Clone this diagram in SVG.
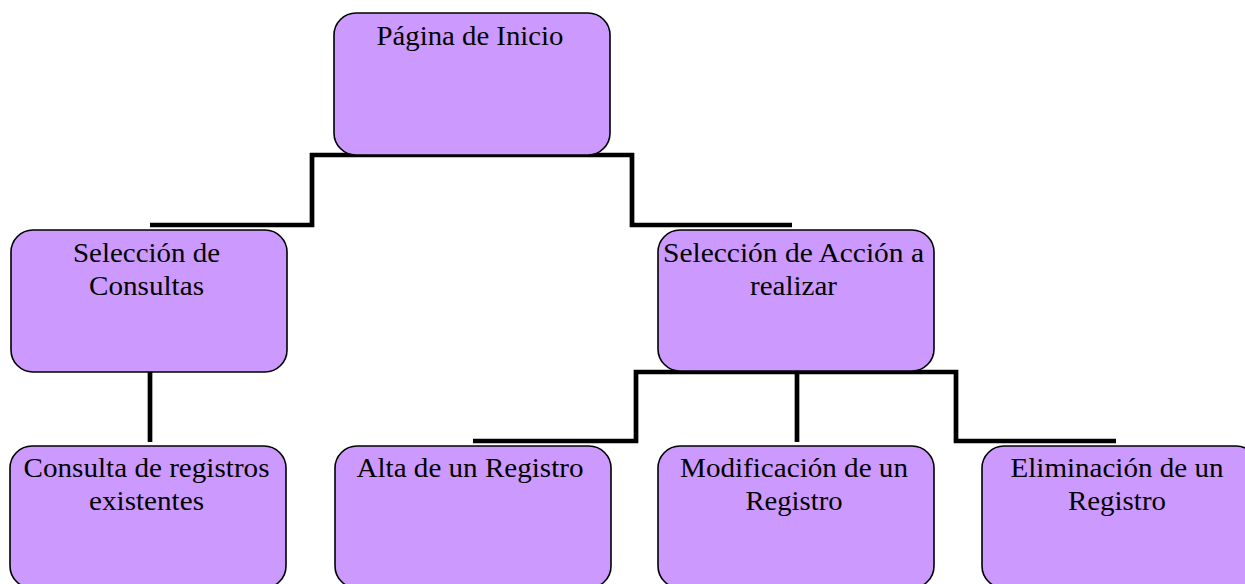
<svg xmlns="http://www.w3.org/2000/svg" width="1245" height="584" viewBox="0 0 1245 584">
<style>
.box{fill:#cc99ff;stroke:#000;stroke-width:1.6}
.lbl{font-size:28px;fill:#000;text-anchor:middle}
.con{fill:none;stroke:#000;stroke-width:4.7;stroke-linejoin:miter;stroke-linecap:butt}
</style>
<rect width="1245" height="584" fill="#fff"/>
<g id="connectors">
<path class="con" d="M150 225 H312 V155 H632 V225 H792"/>
<path class="con" d="M150 372 V442"/>
<path class="con" d="M473 441 H636 V372 H956 V441 H1116"/>
<path class="con" d="M797 372 V442"/>
</g>
<g font-family="'Liberation Serif', 'Times New Roman', Times, serif">
<g id="n1">
<rect class="box" x="334" y="13" width="276" height="142" rx="22" ry="22"/>
<text class="lbl" x="470" y="45" textLength="187" lengthAdjust="spacingAndGlyphs">Página de Inicio</text>
</g>
<g id="n2">
<rect class="box" x="11" y="230" width="276" height="142" rx="22" ry="22"/>
<text class="lbl" x="146.5" y="262" textLength="147" lengthAdjust="spacingAndGlyphs">Selección de</text>
<text class="lbl" x="146.5" y="295" textLength="115" lengthAdjust="spacingAndGlyphs">Consultas</text>
</g>
<g id="n3">
<rect class="box" x="658" y="230" width="276" height="141" rx="22" ry="22"/>
<text class="lbl" x="793.5" y="262" textLength="261" lengthAdjust="spacingAndGlyphs">Selección de Acción a</text>
<text class="lbl" x="793.5" y="295" textLength="87" lengthAdjust="spacingAndGlyphs">realizar</text>
</g>
<g id="n4">
<rect class="box" x="10" y="446" width="276" height="142" rx="22" ry="22"/>
<text class="lbl" x="146.5" y="477" textLength="246" lengthAdjust="spacingAndGlyphs">Consulta de registros</text>
<text class="lbl" x="146.5" y="510" textLength="115" lengthAdjust="spacingAndGlyphs">existentes</text>
</g>
<g id="n5">
<rect class="box" x="335" y="446" width="276" height="142" rx="22" ry="22"/>
<text class="lbl" x="470" y="477" textLength="227" lengthAdjust="spacingAndGlyphs">Alta de un Registro</text>
</g>
<g id="n6">
<rect class="box" x="658" y="446" width="276" height="142" rx="22" ry="22"/>
<text class="lbl" x="794" y="477" textLength="228" lengthAdjust="spacingAndGlyphs">Modificación de un</text>
<text class="lbl" x="794" y="510" textLength="97" lengthAdjust="spacingAndGlyphs">Registro</text>
</g>
<g id="n7">
<rect class="box" x="982" y="446" width="276" height="142" rx="22" ry="22"/>
<text class="lbl" x="1117" y="477" textLength="213" lengthAdjust="spacingAndGlyphs">Eliminación de un</text>
<text class="lbl" x="1117" y="510" textLength="98" lengthAdjust="spacingAndGlyphs">Registro</text>
</g>
</g>
</svg>
